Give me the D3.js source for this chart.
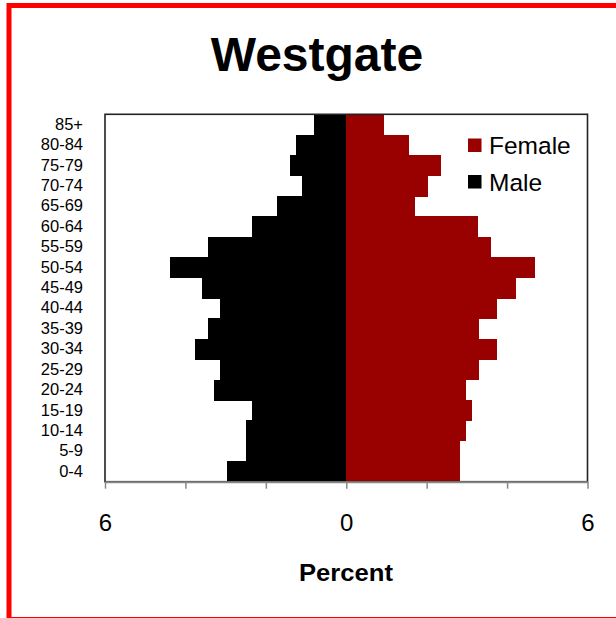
<!DOCTYPE html>
<html><head><meta charset="utf-8">
<script src="https://cdn.jsdelivr.net/npm/d3@7"></script>
<style>html,body{margin:0;padding:0;background:#fff;}svg{display:block;}</style>
</head><body>
<svg id="c" width="616" height="618"></svg>
<script>
const ageGroups = ["0-4","5-9","10-14","15-19","20-24","25-29","30-34","35-39","40-44","45-49","50-54","55-59","60-64","65-69","70-74","75-79","80-84","85+"];
const malePct   = [2.97,2.50,2.50,2.35,3.28,3.13,3.75,3.44,3.13,3.60,4.38,3.44,2.34,1.72,1.09,1.40,1.25,0.79];
const femalePct = [2.83,2.83,2.98,3.13,2.98,3.29,3.76,3.29,3.76,4.22,4.69,3.60,3.28,1.72,2.04,2.35,1.57,0.95];
const xTicks = [-6,-4,-2,0,2,4,6];
const xTickLabels = {"-6":"6","0":"0","6":"6"};
const legendItems = [{name:"Female", color:"#990000"},{name:"Male", color:"#000000"}];

const svg = d3.select("#c");
const L = 105, R = 587.5, T = 114.3, B = 481.7;
const FONT = "'Liberation Sans',Arial,sans-serif";

svg.append("rect").attr("x",9).attr("y",5.5).attr("width",620).attr("height",614)
  .attr("fill","none").attr("stroke","#ff0000").attr("stroke-width",5);

svg.append("text").attr("x",317).attr("y",71).attr("text-anchor","middle")
  .style("font-family",FONT).style("font-weight","bold").style("font-size","48px")
  .text("Westgate");

const x = d3.scaleLinear().domain([-6,6]).range([L,R]);
const y = d3.scaleBand().domain(ageGroups.slice().reverse()).range([T,B]).padding(0);

// bars
svg.append("g").attr("shape-rendering","crispEdges").selectAll("rect").data(ageGroups).join("rect")
  .attr("x",(d,i)=>x(-malePct[i])).attr("width",(d,i)=>x(0)-x(-malePct[i]))
  .attr("y",d=>y(d)).attr("height",y.bandwidth()+0.6).attr("fill","#000");
svg.append("g").attr("shape-rendering","crispEdges").selectAll("rect").data(ageGroups).join("rect")
  .attr("x",x(0)).attr("width",(d,i)=>x(femalePct[i])-x(0))
  .attr("y",d=>y(d)).attr("height",y.bandwidth()+0.6).attr("fill","#990000");

// frame
svg.append("rect").attr("x",L).attr("y",T).attr("width",R-L).attr("height",B-T)
  .attr("fill","none").attr("stroke","#222").attr("stroke-width",1.6);

// x axis
const xa = svg.append("g").attr("transform",`translate(0,${B})`)
  .call(d3.axisBottom(x).tickValues(xTicks).tickSize(7).tickSizeOuter(0).tickFormat(d=>xTickLabels[d]||""));
xa.select(".domain").attr("stroke","#888").attr("stroke-width",2);
xa.selectAll(".tick line").attr("stroke","#888").attr("stroke-width",1.5);
xa.selectAll(".tick text").attr("dy",0).attr("y",49).attr("fill","#000")
  .style("font-family",FONT).style("font-size","24px");

// y axis labels
const ya = svg.append("g").attr("transform",`translate(${L},0)`)
  .call(d3.axisLeft(y).tickSize(0).tickPadding(22));
ya.select(".domain").remove();
ya.selectAll(".tick text").attr("fill","#000")
  .style("font-family",FONT).style("font-size","16.5px");

svg.append("text").attr("x",346).attr("y",581).attr("text-anchor","middle")
  .attr("textLength",94).attr("lengthAdjust","spacingAndGlyphs")
  .style("font-family",FONT).style("font-weight","bold").style("font-size","23px")
  .text("Percent");

// legend
const lg = svg.append("g").selectAll("g").data(legendItems).join("g")
  .attr("transform",(d,i)=>`translate(468,${138.5+i*36.5})`);
lg.append("rect").attr("width",13.5).attr("height",13.5).attr("fill",d=>d.color);
lg.append("text").attr("x",21).attr("y",15.5).attr("fill","#000")
  .style("font-family",FONT).style("font-size","24.5px")
  .text(d=>d.name);
</script>
</body></html>
